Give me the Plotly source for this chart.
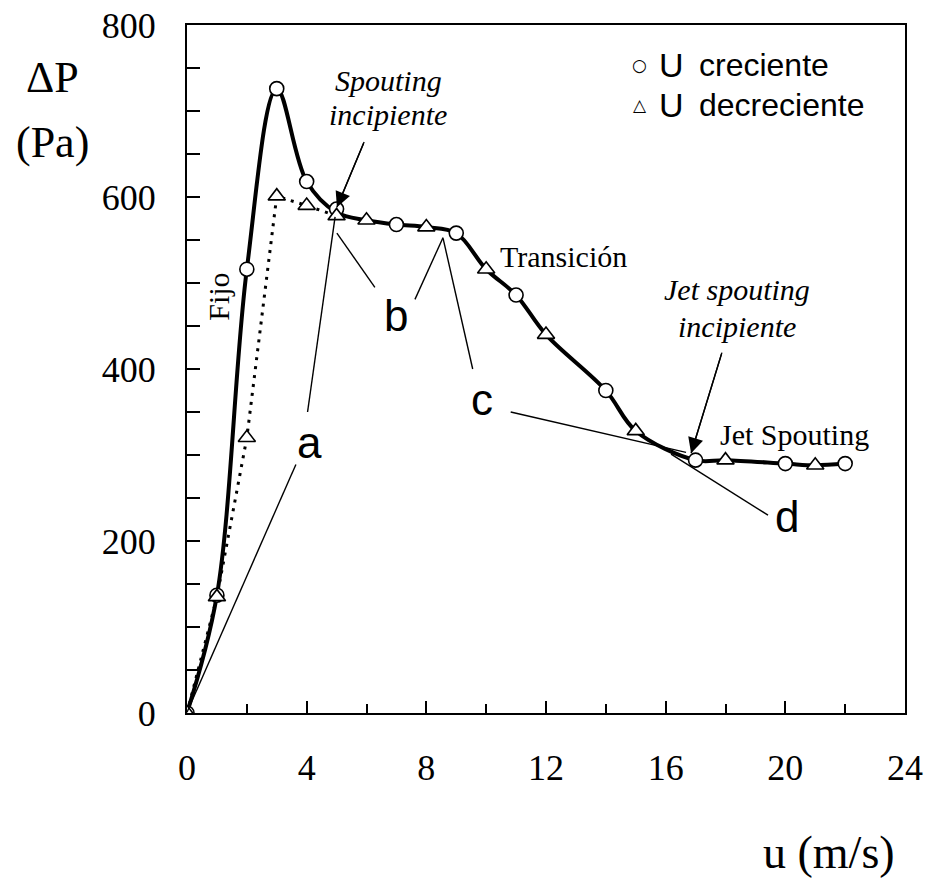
import plotly.graph_objects as go

# Caída de presión frente a velocidad del gas
u_crec = [0, 1, 2, 3, 4, 5, 7, 9, 11, 14, 17, 20, 22]
dp_crec = [0, 137, 516, 726, 618, 586, 568, 558, 486, 375, 294, 290, 290]

u_decr = [0, 1, 2, 3, 4, 5, 6, 8, 10, 12, 15, 18, 21]
dp_decr = [0, 135, 320, 601, 590, 578, 573, 565, 516, 440, 328, 294, 288]

x_ticks = [0, 4, 8, 12, 16, 20, 24]
y_ticks = [0, 200, 400, 600, 800]

SERIF = "Liberation Serif"
SANS = "Liberation Sans"
U_SPOUT = 5  # velocidad a partir de la cual ambas ramas coinciden

# curva de ajuste: rama creciente hasta el spouting y curva común después
pts = {}
for u, p in zip(u_crec, dp_crec):
    pts.setdefault(u, []).append(p)
for u, p in zip(u_decr, dp_decr):
    if u >= U_SPOUT:
        pts.setdefault(u, []).append(p)
curve_u = sorted(pts)
curve_dp = [sum(pts[u]) / len(pts[u]) for u in curve_u]

# rama decreciente en la zona de lecho fijo (línea de puntos)
dot_u = [u for u in u_decr if u <= U_SPOUT]
dot_dp = [p for u, p in zip(u_decr, dp_decr) if u <= U_SPOUT]

fig = go.Figure()
fig.add_trace(go.Scatter(
    x=dot_u, y=dot_dp, mode="lines",
    line=dict(color="black", width=3, dash="3px,6px"),
    showlegend=False, hoverinfo="skip"))
fig.add_trace(go.Scatter(
    x=curve_u, y=curve_dp, mode="lines",
    line=dict(color="black", width=4, shape="spline", smoothing=1.0),
    showlegend=False, hoverinfo="skip"))
fig.add_trace(go.Scatter(
    x=u_crec, y=dp_crec, mode="markers", name="u creciente",
    marker=dict(symbol="circle", size=14, color="white",
                line=dict(color="black", width=1.6)),
    showlegend=False))
fig.add_trace(go.Scatter(
    x=u_decr, y=dp_decr, mode="markers", name="u decreciente",
    marker=dict(symbol="triangle-up", size=15, color="white",
                line=dict(color="black", width=1.6)),
    showlegend=False))

# líneas guía de las etiquetas a-d
leaders = [
    ((4.95, 577), (4.03, 350)),
    ((3.64, 289), (0.0, 1)),
    ((5.01, 558), (6.28, 495)),
    ((7.62, 481), (8.56, 553)),
    ((8.56, 552), (9.55, 400)),
    ((10.82, 350), (16.68, 303)),
    ((16.18, 301), (19.42, 230)),
]
shapes = [dict(type="line", xref="x", yref="y", x0=a[0], y0=a[1], x1=b[0], y1=b[1],
               line=dict(color="black", width=1.4)) for a, b in leaders]

ann = []


def label(x, y, text, size, family, **kw):
    d = dict(x=x, y=y, xref="x", yref="y", text=text, showarrow=False,
             xanchor="center", yanchor="middle",
             font=dict(size=size, family=family, color="black"))
    d.update(kw)
    ann.append(d)


def paper_label(x, y, text, size, family):
    ann.append(dict(x=x, y=y, xref="paper", yref="paper", text=text, showarrow=False,
                    xanchor="center", yanchor="middle",
                    font=dict(size=size, family=family, color="black")))


for x, y, t in [(4.08, 315, "a"), (6.99, 462, "b"), (9.86, 364, "c"), (20.05, 228, "d")]:
    label(x, y, t, 44, SANS)

label(12.57, 531, "Transición", 30, SERIF)
label(20.29, 324, "Jet Spouting", 30, SERIF)
label(1.07, 484, "Fijo", 30, SERIF, textangle=-90)
label(6.72, 736, "<i>Spouting</i>", 30, SERIF)
label(6.72, 696, "<i>incipiente</i>", 30, SERIF)
label(18.38, 493, "<i>Jet spouting</i>", 30, SERIF)
label(18.38, 450, "<i>incipiente</i>", 30, SERIF)

# flechas: tramo recto más punta rellena
for (tx, ty), (hx, hy) in [((5.92, 664), (5.01, 588)), ((17.88, 419), (16.85, 302))]:
    shapes.append(dict(type="line", xref="x", yref="y", x0=tx, y0=ty, x1=hx, y1=hy,
                       line=dict(color="black", width=1.4)))
    ann.append(dict(x=hx, y=hy, ax=tx, ay=ty, xref="x", yref="y", axref="x", ayref="y",
                    text="", showarrow=True, arrowhead=2, arrowsize=2.2,
                    arrowwidth=1.4, arrowcolor="black"))

# leyenda
for yy, sym, txt in [(753, "○", "creciente"), (707, "△", "decreciente")]:
    label(15.14, yy, sym, 17, "DejaVu Sans")
    label(16.2, yy, "U", 34, SANS)
    label(17.05, yy, txt, 32, SANS, xanchor="left")

# títulos de ejes
paper_label(-0.188, 0.923, "ΔP", 44, SERIF)
paper_label(-0.188, 0.829, "(Pa)", 44, SERIF)
paper_label(0.894, -0.2025, "u (m/s)", 46, SERIF)

axis_common = dict(ticks="inside", tickwidth=2, tickcolor="black", showline=True,
                   linecolor="black", linewidth=2, mirror=True, showgrid=False,
                   zeroline=False, automargin=False,
                   tickfont=dict(size=36, family=SERIF, color="black"))

fig.update_layout(
    width=927, height=880,
    margin=dict(l=187, r=22, t=25, b=167),
    paper_bgcolor="white", plot_bgcolor="white",
    shapes=shapes, annotations=ann,
    xaxis=dict(range=[0, 24], tickvals=x_ticks, ticklen=12, ticklabelstandoff=22,
               minor=dict(dtick=2, ticks="inside", ticklen=9, tickwidth=2, tickcolor="black",
                          showgrid=False),
               **axis_common),
    yaxis=dict(range=[0, 800], tickvals=y_ticks, ticklen=13, ticklabelstandoff=22,
               minor=dict(dtick=50, ticks="inside", ticklen=13, tickwidth=2, tickcolor="black",
                          showgrid=False),
               **axis_common),
)

fig.write_html("out.html")
